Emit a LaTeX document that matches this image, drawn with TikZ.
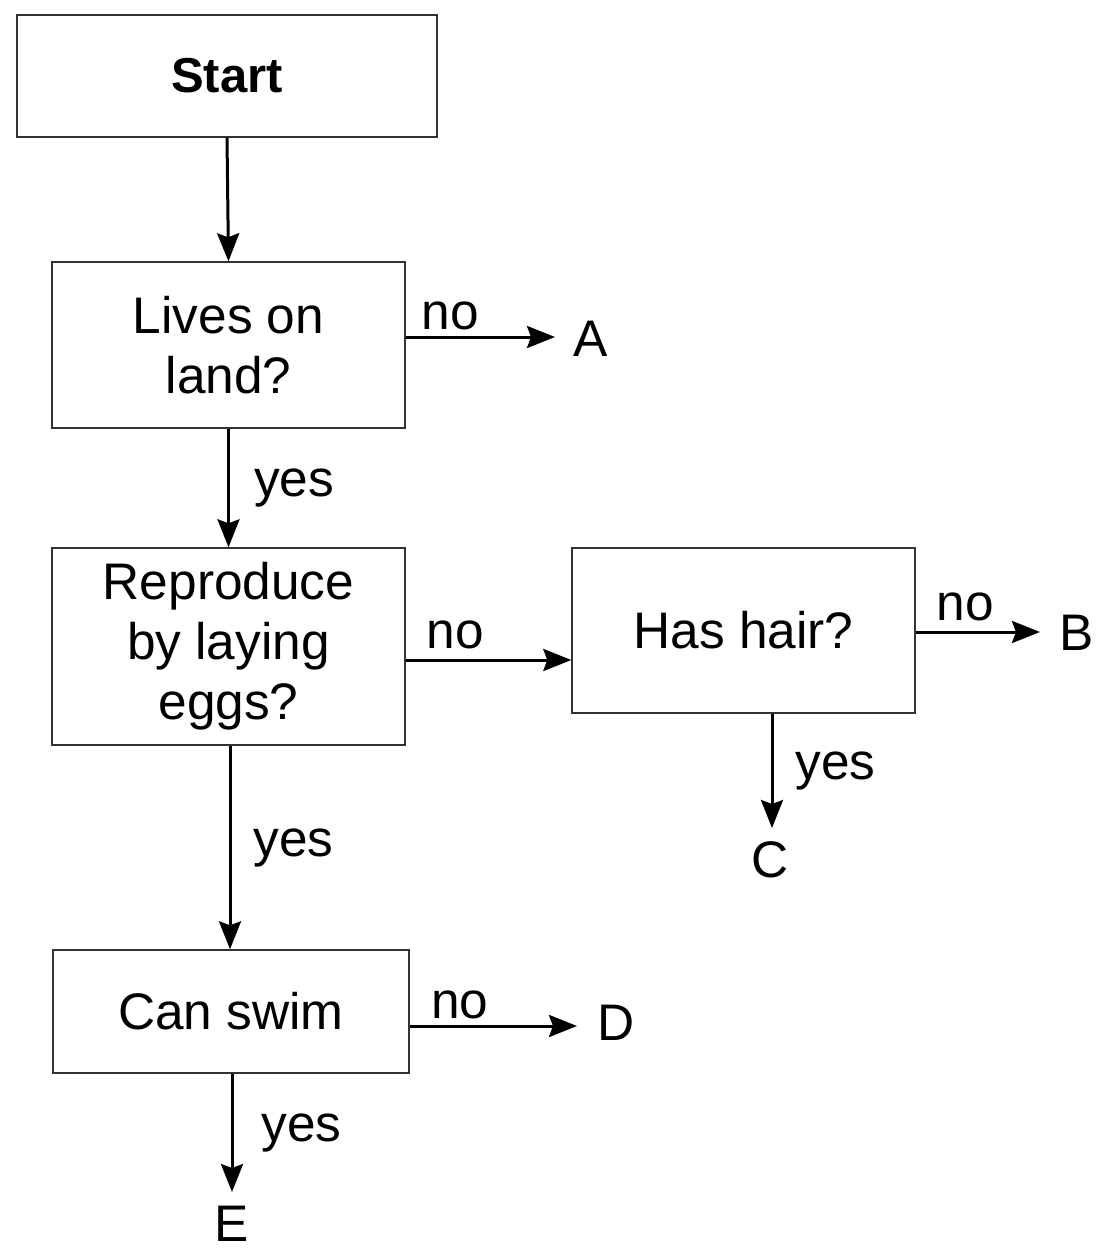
\documentclass[tikz,border=0pt]{standalone}
\usepackage{fontspec}
\setmainfont{Liberation Sans}
\usetikzlibrary{arrows.meta}
\begin{document}
\begin{tikzpicture}[x=0.5pt,y=-0.5pt,
  box/.style={draw=black!80,line width=0.7pt,inner sep=0pt,align=center,
    font=\fontsize{25.7}{30}\selectfont},
  conn/.style={line width=1.5pt,-{Stealth[length=14pt,width=11pt,inset=2pt]}},
  lbl/.style={font=\fontsize{25.7}{30}\selectfont,inner sep=0pt},
]
\useasboundingbox (0,0) rectangle (1096,1253);
\node[box,minimum width=210pt,minimum height=61pt,font=\fontsize{24.5}{30}\selectfont\bfseries] (start) at (227,76) {Start};
\node[box,minimum width=176.5pt,minimum height=83pt] (land) at (228.5,345) {Lives on\\land?};
\node[box,minimum width=176.5pt,minimum height=98.5pt] (eggs) at (228.5,646.5) {Reproduce\\by laying\\eggs?};
\node[box,minimum width=171.5pt,minimum height=82.5pt] (hair) at (743.5,630.5) {Has hair?};
\node[box,minimum width=178pt,minimum height=61.5pt] (swim) at (231,1011.5) {Can swim};
\node[lbl] (A) at (591,339) {A};
\node[lbl] (B) at (1077,633) {B};
\node[lbl] (C) at (770,860) {C};
\node[lbl] (D) at (616,1023) {D};
\node[lbl] (E) at (232,1224) {E};
\coordinate (a1) at (555,337);
\coordinate (b1) at (1040,632);
\coordinate (c1) at (772,828);
\coordinate (d1) at (577,1026);
\coordinate (e1) at (232,1192);
\draw[conn] (start.south) -- (land.north);
\draw[conn] (land.east |- 0,337) -- (a1) node[lbl,pos=0.3,above=3pt] {no};
\draw[conn] (land.south) -- (eggs.north) node[lbl,midway,right=12pt] {yes};
\draw[conn] (eggs.east |- 0,660) -- (hair.west |- 0,660) node[lbl,pos=0.3,above=5pt] {no};
\draw[conn] (hair.east |- 0,632) -- (b1) node[lbl,pos=0.4,above=5pt] {no};
\draw[conn] (hair.south -| 772,0) -- (c1) node[lbl,midway,right=11pt] {yes};
\draw[conn] (eggs.south -| 230,0) -- (swim.north -| 230,0) node[lbl,midway,right=11pt] {yes};
\draw[conn] (swim.east |- 0,1026) -- (d1) node[lbl,pos=0.3,above=3pt] {no};
\draw[conn] (swim.south -| 232,0) -- (e1) node[lbl,midway,right=14pt] {yes};
\end{tikzpicture}
\end{document}
